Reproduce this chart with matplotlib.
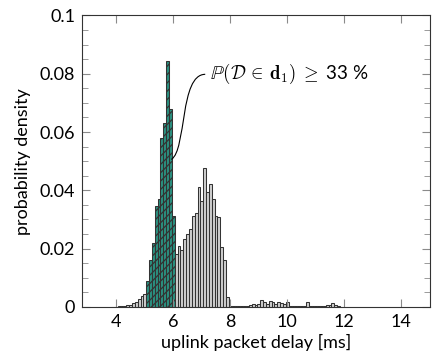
import numpy as np
import matplotlib as mpl
import matplotlib.pyplot as plt
from matplotlib.path import Path
from matplotlib.patches import PathPatch

mpl.rc("font", family=["Lato", "DejaVu Sans"])
mpl.rcParams["mathtext.fontset"] = "cm"
mpl.rcParams["hatch.linewidth"] = 0.9

# 直方图数据，箱宽 0.1 ms
bin_width = 0.1
delay_ms = np.round(np.arange(3.9, 11.85, bin_width), 1)

# 左尾 3.9 - 5.0 ms
density_low = [0.0001, 0.0001, 0.0002, 0.0002, 0.0003, 0.0005,
               0.0008, 0.0013, 0.0018, 0.0026, 0.0036, 0.0044]
# d1 区间 5.1 - 6.0 ms
density_d1 = [0.0088, 0.0161, 0.0220, 0.0346, 0.0372,
              0.0581, 0.0630, 0.0843, 0.0678, 0.0313]
# 主峰 6.1 - 8.0 ms
density_main = [0.0181, 0.0208, 0.0196, 0.0234, 0.0249, 0.0267, 0.0311,
                0.0322, 0.0410, 0.0364, 0.0475, 0.0395, 0.0422, 0.0372,
                0.0311, 0.0308, 0.0205, 0.0161, 0.0035, 0.0004]
# 右尾 8.1 - 11.8 ms
density_tail = [0.0003, 0.0003, 0.0002, 0.0003, 0.0003, 0.0004, 0.0007,
                0.0009, 0.0007, 0.0011, 0.0025, 0.0018, 0.0011, 0.0021,
                0.0017, 0.0011, 0.0018, 0.0015, 0.0011, 0.0016, 0.0004,
                0.0002, 0.0002, 0.0002, 0.0002, 0.0002, 0.0016, 0.0004,
                0.0003, 0.0003, 0.0003, 0.0004, 0.0004, 0.0006, 0.0008,
                0.0014, 0.0005, 0.0002]

density = np.array(density_low + density_d1 + density_main + density_tail)
in_d1 = np.zeros(len(density), dtype=bool)
in_d1[len(density_low):len(density_low) + len(density_d1)] = True

fig = plt.figure(figsize=(4.32, 3.59), dpi=100)
ax = fig.add_axes([0.19, 0.145, 0.805, 0.812])

edge = "#333333"
ax.bar(delay_ms[~in_d1], density[~in_d1], width=bin_width,
       color="#cfcfcf", edgecolor=edge, linewidth=0.75)
ax.bar(delay_ms[in_d1], density[in_d1], width=bin_width,
       color="#2a9080", edgecolor=edge, linewidth=0.75, hatch="////")

# 注释连线（三次贝塞尔曲线）
verts = [(5.93, 0.0506), (6.47, 0.0538), (6.22, 0.0798), (7.12, 0.0798)]
codes = [Path.MOVETO, Path.CURVE4, Path.CURVE4, Path.CURVE4]
ax.add_patch(PathPatch(Path(verts, codes), fill=False, lw=0.8, color="black"))
ax.text(7.3, 0.0798, r"$\mathbb{P}(\mathcal{D}\,\in\,\mathbf{d}_1)\;\geq$ 33 %",
        fontsize=13.5, va="center", ha="left")

ax.set_xlim(2.8, 15)
ax.set_ylim(0, 0.1)
ax.set_xticks([4, 6, 8, 10, 12, 14])
ax.set_yticks([0, 0.02, 0.04, 0.06, 0.08, 0.1])
ax.set_yticklabels(["0", "0.02", "0.04", "0.06", "0.08", "0.1"])
ax.set_yticks(np.arange(0, 0.1001, 0.005), minor=True)
ax.tick_params(which="both", direction="in", top=True, right=True,
               color="#8a8a8a", labelsize=13, pad=5)
ax.tick_params(which="major", length=6, width=0.8)
ax.tick_params(which="minor", length=4, width=0.6)
ax.tick_params(axis="x", which="minor", bottom=False, top=False)
for s in ax.spines.values():
    s.set_color("#333333")
    s.set_linewidth(0.8)

ax.set_xlabel("uplink packet delay [ms]", fontsize=13, labelpad=3)
ax.set_ylabel("probability density", fontsize=13, labelpad=6)

plt.savefig("out.png", dpi=100)
